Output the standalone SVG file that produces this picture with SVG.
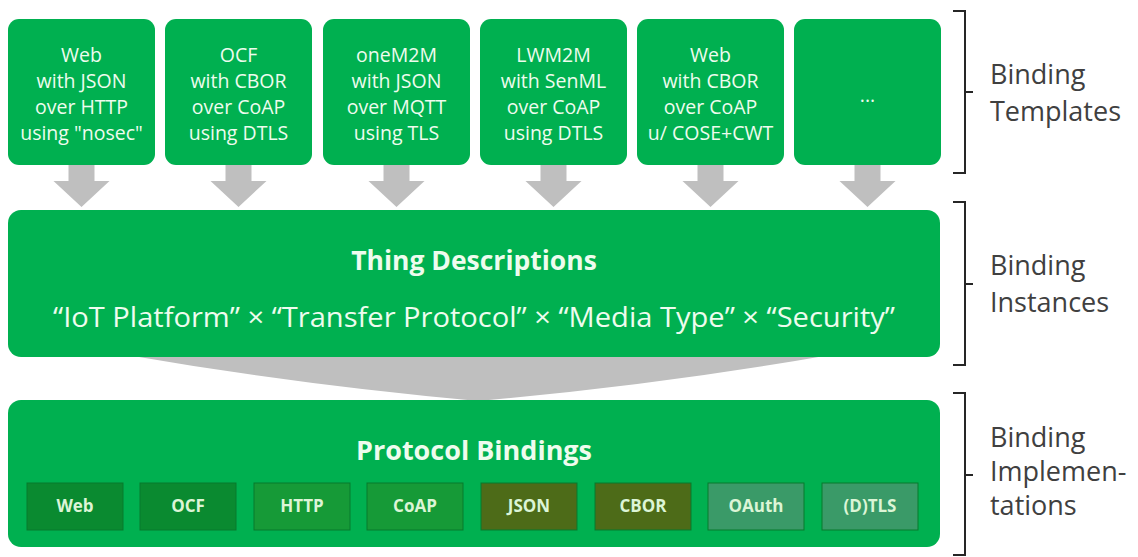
<svg xmlns="http://www.w3.org/2000/svg" width="1138" height="557" viewBox="0 0 1138 557">
<defs>
<style>
.box{fill:#00b050;}
.t{font-family:"Open Sans","Liberation Sans",sans-serif;fill:#eefcee;text-anchor:middle;}
.tb{font-size:19.5px;}
.arrow{fill:#bfbfbf;}
.sb{stroke:#067a2c;stroke-width:1;}
.sl{font-family:"Open Sans","Liberation Sans",sans-serif;font-size:17px;font-weight:bold;text-anchor:middle;fill:#dcf5d6;}
.br{fill:none;stroke:#262626;stroke-width:2;}
.lab{font-family:"Open Sans","Liberation Sans",sans-serif;font-size:27px;fill:#404040;}
</style>
</defs>
<rect width="1138" height="557" fill="#ffffff"/>

<g id="connectors">
<path class="arrow" d="M68.5,164 H94.5 V181 H109.5 L81.5,207 L53.5,181 H68.5 Z"/>
<path class="arrow" d="M225.5,164 H251.5 V181 H266.5 L238.5,207 L210.5,181 H225.5 Z"/>
<path class="arrow" d="M383.5,164 H409.5 V181 H424.5 L396.5,207 L368.5,181 H383.5 Z"/>
<path class="arrow" d="M540.5,164 H566.5 V181 H581.5 L553.5,207 L525.5,181 H540.5 Z"/>
<path class="arrow" d="M697.5,164 H723.5 V181 H738.5 L710.5,207 L682.5,181 H697.5 Z"/>
<path class="arrow" d="M854.5,164 H880.5 V181 H895.5 L867.5,207 L839.5,181 H854.5 Z"/>
<path class="arrow" d="M127,355 L830,355 Q660,385 478,401 Q300,385 127,355 Z"/>
</g>

<g id="tpl-web-json">
<rect class="box" x="8" y="19" width="147" height="146" rx="11"/>
<text class="t tb" x="81.5" y="62">Web</text>
<text class="t tb" x="81.5" y="88">with JSON</text>
<text class="t tb" x="81.5" y="114">over HTTP</text>
<text class="t tb" x="81.5" y="140">using "nosec"</text>
</g>
<g id="tpl-ocf">
<rect class="box" x="165" y="19" width="147" height="146" rx="11"/>
<text class="t tb" x="238.5" y="62">OCF</text>
<text class="t tb" x="238.5" y="88">with CBOR</text>
<text class="t tb" x="238.5" y="114">over CoAP</text>
<text class="t tb" x="238.5" y="140">using DTLS</text>
</g>
<g id="tpl-onem2m">
<rect class="box" x="323" y="19" width="147" height="146" rx="11"/>
<text class="t tb" x="396.5" y="62">oneM2M</text>
<text class="t tb" x="396.5" y="88">with JSON</text>
<text class="t tb" x="396.5" y="114">over MQTT</text>
<text class="t tb" x="396.5" y="140">using TLS</text>
</g>
<g id="tpl-lwm2m">
<rect class="box" x="480" y="19" width="147" height="146" rx="11"/>
<text class="t tb" x="553.5" y="62">LWM2M</text>
<text class="t tb" x="553.5" y="88">with SenML</text>
<text class="t tb" x="553.5" y="114">over CoAP</text>
<text class="t tb" x="553.5" y="140">using DTLS</text>
</g>
<g id="tpl-web-cbor">
<rect class="box" x="637" y="19" width="147" height="146" rx="11"/>
<text class="t tb" x="710.5" y="62">Web</text>
<text class="t tb" x="710.5" y="88">with CBOR</text>
<text class="t tb" x="710.5" y="114">over CoAP</text>
<text class="t tb" x="710.5" y="140">u/ COSE+CWT</text>
</g>
<g id="tpl-more">
<rect class="box" x="794" y="19" width="147" height="146" rx="11"/>
<text class="t tb" x="867.5" y="102">...</text>
</g>

<g id="thing-descriptions">
<rect class="box" x="8" y="210" width="932" height="147" rx="13"/>
<text class="t" x="474" y="270" font-size="26.5" font-weight="bold">Thing Descriptions</text>
<text class="t" x="474" y="327" font-size="27" textLength="842" lengthAdjust="spacingAndGlyphs">“IoT Platform” × “Transfer Protocol” × “Media Type” × “Security”</text>
</g>

<g id="protocol-bindings">
<rect class="box" x="8" y="400" width="932" height="147" rx="13"/>
<text class="t" x="474" y="460" font-size="27" font-weight="bold">Protocol Bindings</text>
</g>
<g id="pb-web"><rect class="sb" x="27" y="483" width="96" height="47" fill="#0a8a30"/><text class="sl" x="75" y="512">Web</text></g>
<g id="pb-ocf"><rect class="sb" x="140" y="483" width="96" height="47" fill="#0a8a30"/><text class="sl" x="188" y="512">OCF</text></g>
<g id="pb-http"><rect class="sb" x="254" y="483" width="96" height="47" fill="#169a37"/><text class="sl" x="302" y="512">HTTP</text></g>
<g id="pb-coap"><rect class="sb" x="367" y="483" width="96" height="47" fill="#169a37"/><text class="sl" x="415" y="512">CoAP</text></g>
<g id="pb-json"><rect class="sb" x="481" y="483" width="96" height="47" fill="#4d6b18"/><text class="sl" x="529" y="512" fill="#e3ebc2">JSON</text></g>
<g id="pb-cbor"><rect class="sb" x="595" y="483" width="96" height="47" fill="#4d6b18"/><text class="sl" x="643" y="512" fill="#e3ebc2">CBOR</text></g>
<g id="pb-oauth"><rect class="sb" x="708" y="483" width="96" height="47" fill="#3a9a68"/><text class="sl" x="756" y="512" fill="#cdeedb">OAuth</text></g>
<g id="pb-dtls"><rect class="sb" x="822" y="483" width="96" height="47" fill="#3a9a68"/><text class="sl" x="870" y="512" fill="#cdeedb">(D)TLS</text></g>

<g id="label-templates">
<path class="br" d="M953,11 H965 V173 H953 M965,92 H973"/>
<text class="lab" x="990" y="84">Binding</text>
<text class="lab" x="990" y="121">Templates</text>
</g>
<g id="label-instances">
<path class="br" d="M953,202 H965 V365 H953 M965,284 H973"/>
<text class="lab" x="990" y="275">Binding</text>
<text class="lab" x="990" y="312">Instances</text>
</g>
<g id="label-implementations">
<path class="br" d="M953,393 H965 V555 H953 M965,475 H973"/>
<text class="lab" x="990" y="447">Binding</text>
<text class="lab" x="990" y="481">Implemen-</text>
<text class="lab" x="990" y="515">tations</text>
</g>
</svg>
